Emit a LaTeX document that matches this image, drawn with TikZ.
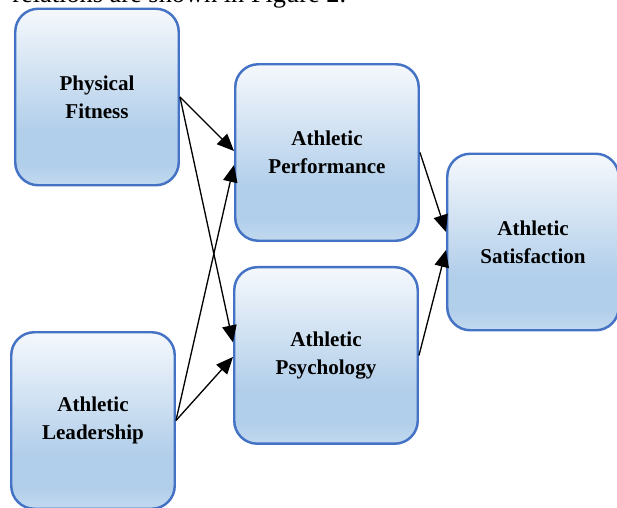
\documentclass[tikz,border=0pt]{standalone}
\usepackage{fontspec}
\setmainfont{Liberation Serif}
\usepackage{xcolor}
\usepackage{tikz}
\usetikzlibrary{arrows.meta, positioning}

\definecolor{boxline}{HTML}{4472C4}
\definecolor{filltop}{HTML}{F5F8FC}
\definecolor{filldark}{HTML}{B1CEEA}
\definecolor{fillbot}{HTML}{C2DAEF}

% office-like fill: pale at the top, darkest a little above the bottom edge
\pgfdeclareverticalshading{boxfill}{100bp}{color(0bp)=(fillbot); color(25bp)=(fillbot);
  color(31bp)=(filldark); color(40bp)=(filldark); color(75bp)=(filltop); color(100bp)=(filltop)}

\begin{document}
\begin{tikzpicture}[
    block/.style={draw=boxline, line width=1.4pt, rounded corners=0.46cm, shading=boxfill,
      minimum height=3.53cm, align=center, font=\fontsize{12}{16}\selectfont\bfseries},
    arrow/.style={-{Triangle[length=0.34cm, width=0.29cm]}, line width=0.75pt}
]
    \useasboundingbox (0,0) rectangle (12.34,10.16);

    % caption line running into the top edge
    \node[anchor=base west, inner sep=0pt, font=\fontsize{15}{18}\selectfont] (caption) at (0.24,10.1) {relations are shown in Figure 2.};

    \node[block, minimum width=3.27cm] (fit) at (1.94,8.22) {Physical\\Fitness};
    \node[block, minimum width=3.27cm] (lead) at (1.86,1.75) {Athletic\\Leadership};
    \node[block, minimum width=3.67cm] (perf) at (6.54,7.11) {Athletic\\Performance};
    \node[block, minimum width=3.67cm, below=0.48cm of perf.south, anchor=north, xshift=-0.02cm] (psych) {Athletic\\Psychology};
    \node[block, minimum width=3.43cm] (sat) at (10.66,5.32) {Athletic\\Satisfaction};

    \draw[arrow] (fit.east) -- ([yshift=0.03cm]perf.west);
    \draw[arrow] (fit.east) -- ([yshift=0.26cm]psych.west);
    \draw[arrow] (lead.east) -- ([yshift=-0.25cm]perf.west);
    \draw[arrow] (lead.east) -- ([yshift=-0.03cm]psych.west);
    \draw[arrow] (perf.east) -- ([yshift=0.2cm]sat.west);
    \draw[arrow] (psych.east) -- ([yshift=-0.16cm]sat.west);
\end{tikzpicture}
\end{document}
